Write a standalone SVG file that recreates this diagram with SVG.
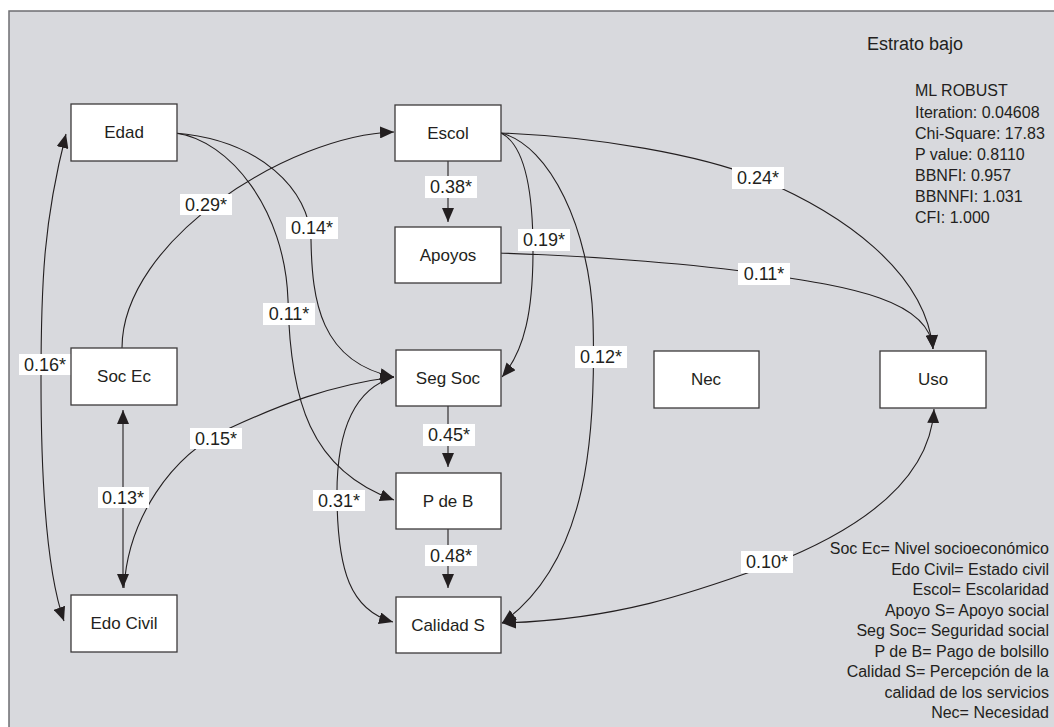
<svg xmlns="http://www.w3.org/2000/svg" width="1054" height="727" viewBox="0 0 1054 727">
<defs>
<marker id="ah" markerUnits="userSpaceOnUse" markerWidth="15" markerHeight="12" refX="14" refY="6" orient="auto-start-reverse" viewBox="0 0 15 12">
<path d="M0,0 L14,6 L0,12 z" fill="#231f20"/>
</marker>
<style>
.node rect{fill:#ffffff;stroke:#3c3a3b;stroke-width:1.3}
.node text{font-family:"Liberation Sans",Arial,sans-serif;font-size:17px;fill:#231f20;text-anchor:middle}
.edge{fill:none;stroke:#231f20;stroke-width:1.1}
.lbl rect{fill:#ffffff;stroke:none}
.lbl text{font-family:"Liberation Sans",Arial,sans-serif;font-size:18px;fill:#231f20;text-anchor:middle}
.info{font-family:"Liberation Sans",Arial,sans-serif;font-size:16px;fill:#231f20}
</style>
</defs>
<rect x="0" y="0" width="1054" height="727" fill="#ffffff"/>
<rect x="9" y="11" width="1060" height="730" fill="#d8d9dd" stroke="#6d6e71" stroke-width="1.5"/>

<g id="connectors">
<path class="edge" d="M448,161 L448,222" marker-end="url(#ah)"/>
<path class="edge" d="M448,406 L448,467" marker-end="url(#ah)"/>
<path class="edge" d="M448,529 L448,588" marker-end="url(#ah)"/>
<path class="edge" d="M123,410 L123,588" marker-start="url(#ah)" marker-end="url(#ah)"/>
<path class="edge" d="M66,134 C 44,220 41,280 41,380 C 41,480 46,570 64,621" marker-start="url(#ah)" marker-end="url(#ah)"/>
<path class="edge" d="M122,348 C 122,240 290,135 394,132" marker-end="url(#ah)"/>
<path class="edge" d="M175,133 C 260,140 310,190 311,240 C 312,300 320,362 394,377" marker-end="url(#ah)"/>
<path class="edge" d="M175,133 C 230,140 285,210 288,300 C 290,400 310,470 394,500" marker-end="url(#ah)"/>
<path class="edge" d="M124,588 C 128,520 170,455 230,428 C 280,405 330,385 394,377" marker-end="url(#ah)"/>
<path class="edge" d="M394,377 C 350,390 336,440 337,500 C 338,570 350,610 393,622" marker-end="url(#ah)"/>
<path class="edge" d="M501,133 C 525,145 533,190 533,250 C 533,310 525,350 502,377" marker-end="url(#ah)"/>
<path class="edge" d="M501,133 C 550,145 590,230 593,320 C 596,430 590,560 502,623" marker-end="url(#ah)"/>
<path class="edge" d="M501,133 C 600,137 700,155 758,178 C 840,212 925,270 933,349" marker-end="url(#ah)"/>
<path class="edge" d="M497,253 C 600,256 700,265 764,274 C 850,287 930,300 933,349" marker-end="url(#ah)"/>
<path class="edge" d="M502,623 C 620,620 700,590 770,565 C 860,530 930,480 934,409" marker-start="url(#ah)" marker-end="url(#ah)"/>
</g>

<g id="edge-labels">
<g class="lbl"><rect x="180" y="194" width="52" height="21"/><text x="206" y="211">0.29*</text></g>
<g class="lbl"><rect x="286" y="217" width="52" height="22"/><text x="312" y="234">0.14*</text></g>
<g class="lbl"><rect x="263" y="303" width="52" height="22"/><text x="289" y="320">0.11*</text></g>
<g class="lbl"><rect x="19" y="354" width="53" height="21"/><text x="45" y="371">0.16*</text></g>
<g class="lbl"><rect x="190" y="428" width="52" height="21"/><text x="216" y="445">0.15*</text></g>
<g class="lbl"><rect x="98" y="487" width="51" height="21"/><text x="123" y="504">0.13*</text></g>
<g class="lbl"><rect x="313" y="490" width="52" height="21"/><text x="339" y="507">0.31*</text></g>
<g class="lbl"><rect x="425" y="176" width="52" height="22"/><text x="451" y="193">0.38*</text></g>
<g class="lbl"><rect x="518" y="229" width="52" height="22"/><text x="544" y="246">0.19*</text></g>
<g class="lbl"><rect x="575" y="346" width="52" height="22"/><text x="601" y="363">0.12*</text></g>
<g class="lbl"><rect x="423" y="424" width="52" height="22"/><text x="449" y="441">0.45*</text></g>
<g class="lbl"><rect x="425" y="545" width="52" height="21"/><text x="451" y="562">0.48*</text></g>
<g class="lbl"><rect x="732" y="167" width="52" height="22"/><text x="758" y="184">0.24*</text></g>
<g class="lbl"><rect x="738" y="263" width="52" height="22"/><text x="764" y="280">0.11*</text></g>
<g class="lbl"><rect x="741" y="551" width="52" height="22"/><text x="767" y="568">0.10*</text></g>
</g>

<g id="node-edad" class="node"><rect x="71" y="104" width="106" height="57"/><text x="124" y="138">Edad</text></g>
<g id="node-escol" class="node"><rect x="395" y="105" width="106" height="56"/><text x="448" y="139">Escol</text></g>
<g id="node-apoyos" class="node"><rect x="395" y="227" width="106" height="56"/><text x="448" y="261">Apoyos</text></g>
<g id="node-socec" class="node"><rect x="71" y="348" width="106" height="57"/><text x="124" y="382">Soc Ec</text></g>
<g id="node-segsoc" class="node"><rect x="396" y="350" width="105" height="56"/><text x="448" y="384">Seg Soc</text></g>
<g id="node-nec" class="node"><rect x="654" y="351" width="105" height="57"/><text x="706" y="385">Nec</text></g>
<g id="node-uso" class="node"><rect x="880" y="351" width="106" height="57"/><text x="933" y="385">Uso</text></g>
<g id="node-pdeb" class="node"><rect x="396" y="473" width="105" height="56"/><text x="448" y="507">P de B</text></g>
<g id="node-edocivil" class="node"><rect x="71" y="595" width="106" height="57"/><text x="124" y="629">Edo Civil</text></g>
<g id="node-calidads" class="node"><rect x="396" y="597" width="105" height="56"/><text x="448" y="631">Calidad S</text></g>

<g id="title"><text class="info" x="867" y="50" style="font-size:18px">Estrato bajo</text></g>
<g id="stats" class="info">
<text x="915" y="96">ML ROBUST</text>
<text x="915" y="118">Iteration: 0.04608</text>
<text x="915" y="139">Chi-Square: 17.83</text>
<text x="915" y="160">P value: 0.8110</text>
<text x="915" y="181">BBNFI: 0.957</text>
<text x="915" y="202">BBNNFI: 1.031</text>
<text x="915" y="223">CFI: 1.000</text>
</g>
<g id="legend" class="info" text-anchor="end">
<text x="1049" y="554">Soc Ec= Nivel socioeconómico</text>
<text x="1049" y="575">Edo Civil= Estado civil</text>
<text x="1049" y="595">Escol= Escolaridad</text>
<text x="1049" y="616">Apoyo S= Apoyo social</text>
<text x="1049" y="636">Seg Soc= Seguridad social</text>
<text x="1049" y="657">P de B= Pago de bolsillo</text>
<text x="1049" y="677">Calidad S= Percepción de la</text>
<text x="1049" y="698">calidad de los servicios</text>
<text x="1049" y="718">Nec= Necesidad</text>
</g>
</svg>
